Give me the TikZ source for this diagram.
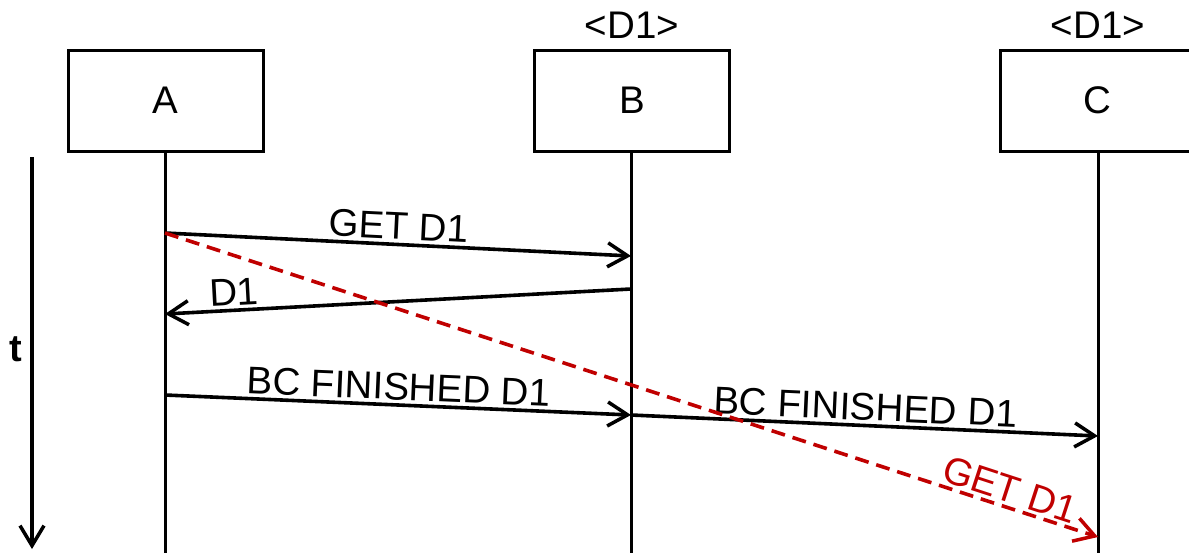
\documentclass[tikz,border=0pt]{standalone}
\usepackage{fontspec}
\setmainfont{Liberation Sans}
\usetikzlibrary{arrows.meta}
\definecolor{dred}{RGB}{192,0,0}
\begin{document}
\begin{tikzpicture}[x=1pt,y=-1pt,
  lbl/.style={font=\fontsize{38.5}{46}\selectfont},
  box/.style={draw, line width=3pt, minimum width=195pt, minimum height=101pt, inner sep=0pt, lbl},
  life/.style={line width=3pt},
  tip/.style={-{Straight Barb[length=20pt,width=24pt,line width=3.5pt]}},
  msg/.style={line width=3.6pt, tip},
  tag/.style={lbl, sloped, above, inner sep=3pt},
  late/.style={msg, dred, dash pattern=on 14pt off 8pt}
]
\useasboundingbox (0,0) rectangle (1189,552);
\clip (0,0) rectangle (1189,552);

% participants
\node[box] (A) at (165.5,100.5) {A};
\node[box] (B) at (632,100.5) {B};
\node[box] (C) at (1097.5,100.5) {C};
\node[lbl] (dB) at (632,25) {<D1>};
\node[lbl] (dC) at (1098,25) {<D1>};

% lifelines
\coordinate (Aend) at (165,553);
\coordinate (Bend) at (631,553);
\coordinate (Cend) at (1098,553);
\draw[life] (A.south -| Aend) -- (Aend);
\draw[life] (B.south -| Bend) -- (Bend);
\draw[life] (C.south -| Cend) -- (Cend);

% time axis
\coordinate (t0) at (32,157);
\coordinate (t1) at (32,549);
\draw[msg] (t0) -- (t1);
\node[font=\fontsize{38}{44}\selectfont\bfseries] (t) at (16,349) {t};

% message points
\coordinate (a1) at (165,233);
\coordinate (b1) at (631,256);
\coordinate (b2) at (631,289);
\coordinate (a2) at (165,314);
\coordinate (a3) at (165,395);
\coordinate (b3) at (631,415);
\coordinate (c3) at (1098,436);
\coordinate (c4) at (1098,537);

\draw[msg] (a1) -- node[tag] {GET D1} (b1);
\draw[msg] (b2) -- node[tag, pos=0.85] {D1} (a2);
\draw[msg] (a3) -- node[tag] {BC FINISHED D1} (b3);
\draw[msg] (b3) -- node[tag] {BC FINISHED D1} (c3);
\draw[late] (a1) -- node[tag, pos=0.9, text=dred, inner sep=2.5pt] {GET D1} (c4);
\end{tikzpicture}
\end{document}
